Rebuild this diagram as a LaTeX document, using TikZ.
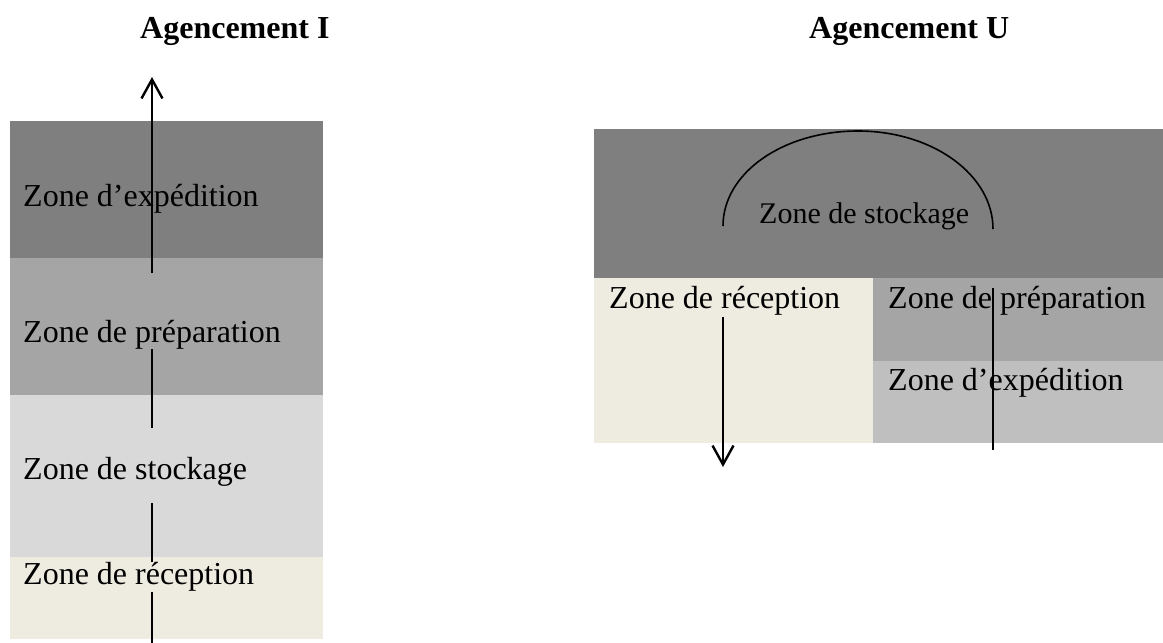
\documentclass[tikz,border=0pt]{standalone}
\usepackage{fontspec}
\setmainfont{Liberation Serif}
\usetikzlibrary{arrows.meta}
\definecolor{zexp}{HTML}{7F7F7F}
\definecolor{zprep}{HTML}{A5A5A5}
\definecolor{zstock}{HTML}{D9D9D9}
\definecolor{zrec}{HTML}{EEECE1}
\definecolor{zexplight}{HTML}{BFBFBF}
\begin{document}
\begin{tikzpicture}[x=1pt,y=-1pt,
  zonetext/.style={anchor=base west,inner sep=0pt,font=\fontsize{32}{38}\selectfont},
  smalltext/.style={anchor=base west,inner sep=0pt,font=\fontsize{30}{36}\selectfont},
  heading/.style={anchor=base west,inner sep=0pt,font=\fontsize{32}{38}\selectfont\bfseries},
  flow/.style={line width=2.4pt},
  flowarrow/.style={flow,-{Straight Barb[length=19pt,width=21pt]}},
  loop/.style={line width=1.6pt}]
\useasboundingbox (0,0) rectangle (1163,643);

% ---- Agencement I : zones stacked vertically
\fill[zexp]   (10,121) rectangle (323,258);
\fill[zprep]  (10,258) rectangle (323,395);
\fill[zstock] (10,395) rectangle (323,557);
\fill[zrec]   (10,557) rectangle (323,639);

\node[heading]  (titleI) at (140,38)  {Agencement I};
\node[zonetext] (iexp)   at (23,206)  {Zone d’expédition};
\node[zonetext] (iprep)  at (23,342)  {Zone de préparation};
\node[zonetext] (istock) at (23,479)  {Zone de stockage};
\node[zonetext] (irec)   at (23,584)  {Zone de réception};

% flow line from reception up to shipping
\coordinate (i1a) at (152,643); \coordinate (i1b) at (152,592);
\coordinate (i2a) at (152,562); \coordinate (i2b) at (152,503);
\coordinate (i3a) at (152,428); \coordinate (i3b) at (152,349);
\coordinate (i4a) at (152,273); \coordinate (i4b) at (152,77);
\draw[flow] (i1a) -- (i1b);
\draw[flow] (i2a) -- (i2b);
\draw[flow] (i3a) -- (i3b);
\draw[flowarrow] (i4a) -- (i4b);

% ---- Agencement U : storage on top, three zones below
\fill[zexp]      (594,129) rectangle (1163,278);
\fill[zrec]      (594,278) rectangle (873,443);
\fill[zprep]     (873,278) rectangle (1163,361);
\fill[zexplight] (873,361) rectangle (1163,443);

\node[heading]   (titleU) at (809,38)  {Agencement U};
\node[smalltext] (ustock) at (759,223) {Zone de stockage};
\node[zonetext]  (urec)   at (609,308) {Zone de réception};
\node[zonetext]  (uprep)  at (888,308) {Zone de préparation};
\node[zonetext]  (uexp)   at (888,390) {Zone d’expédition};

% U-shaped flow: down through reception, arc over storage, down through preparation
\coordinate (ua0) at (723,226);
\coordinate (utop) at (858,131);
\coordinate (ua1) at (993,229);
\draw[loop] (ua0) .. controls (723,173) and (783,131) .. (utop)
                  .. controls (933,131) and (993,175) .. (ua1);

\coordinate (ud0) at (723,317); \coordinate (ud1) at (723,467);
\draw[flowarrow] (ud0) -- (ud1);
\coordinate (up0) at (993,288); \coordinate (up1) at (993,450);
\draw[flow] (up0) -- (up1);
\end{tikzpicture}
\end{document}
